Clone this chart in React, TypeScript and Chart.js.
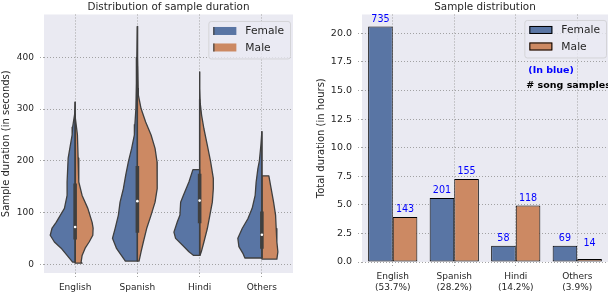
import React, { useEffect, useRef } from "react";
import { Chart, registerables } from "chart.js";

Chart.register(...registerables);
Chart.defaults.font.family = "'DejaVu Sans', sans-serif";

// ---------- shared ----------
const languages = ["English", "Spanish", "Hindi", "Others"];
const languageShares = ["(53.7%)", "(28.2%)", "(14.2%)", "(3.9%)"];
const genderLabels = ["Female", "Male"];
const genderColors = ["#5975a4", "#cc8963"];

// ---------- left panel: violin half-profiles [seconds, half width in category units], top -> bottom ----------
const femaleEnglish = [[314, 0], [290, 0.008], [265, 0.04], [250, 0.048], [205, 0.112], [159, 0.129], [133, 0.129], [108, 0.172], [81, 0.305], [70, 0.37], [56, 0.4], [43, 0.333], [31, 0.225], [17, 0.129], [4, 0.04]];
const maleEnglish = [[290, 0], [282, 0.008], [250, 0.037], [205, 0.048], [159, 0.059], [133, 0.112], [108, 0.204], [81, 0.273], [70, 0.289], [56, 0.284], [43, 0.225], [31, 0.161], [17, 0.112], [4, 0.096], [2, 0.112]];
const femaleSpanish = [[460, 0], [400, 0.008], [350, 0.016], [300, 0.024], [270, 0.04], [250, 0.048], [224, 0.092], [198, 0.145], [172, 0.188], [146, 0.225], [120, 0.278], [95, 0.305], [69, 0.358], [50, 0.4], [30, 0.333], [17, 0.257], [6, 0.193]];
const maleSpanish = [[460, 0], [400, 0.008], [340, 0.013], [327, 0.016], [301, 0.059], [275, 0.133], [250, 0.22], [224, 0.284], [198, 0.316], [172, 0.321], [146, 0.316], [120, 0.284], [95, 0.22], [69, 0.149], [43, 0.096], [24, 0.059], [6, 0.027]];
const femaleHindi = [[183, 0.108], [159, 0.172], [133, 0.262], [120, 0.305], [95, 0.316], [82, 0.358], [62, 0.413], [50, 0.386], [37, 0.278], [24, 0.172], [17, 0.096]];
const maleHindi = [[372, 0], [340, 0.005], [311, 0.01], [288, 0.032], [262, 0.069], [230, 0.124], [198, 0.177], [166, 0.22], [146, 0.22], [120, 0.204], [95, 0.165], [69, 0.124], [43, 0.069], [24, 0.027], [17, 0.005]];
const femaleOthers = [[257, 0], [230, 0.016], [200, 0.04], [185, 0.064], [159, 0.092], [133, 0.108], [108, 0.156], [88, 0.225], [69, 0.316], [50, 0.386], [34, 0.369], [21, 0.305], [12, 0.273]];
const maleOthers = [[171, 0.112], [146, 0.149], [120, 0.188], [95, 0.22], [69, 0.23], [43, 0.241], [24, 0.257], [10, 0.241]];

const femaleViolins = [femaleEnglish, femaleSpanish, femaleHindi, femaleOthers];
const maleViolins = [maleEnglish, maleSpanish, maleHindi, maleOthers];

// [lower whisker, q1, median, q3, upper whisker] in seconds
const boxStats = [
  [3, 48, 72, 156, 314],
  [6, 61, 122, 190, 383],
  [17, 79, 123, 175, 319],
  [12, 30, 57, 102, 257],
];
const durationTicks = [0, 100, 200, 300, 400];
const durationMin = -17;
const durationMax = 483;

// ---------- right panel ----------
const femaleHours = [20.6, 5.59, 1.43, 1.43];
const maleHours = [3.93, 7.25, 4.95, 0.26];
const femaleCounts = [735, 201, 58, 69];
const maleCounts = [143, 155, 118, 14];
const hoursTicks = [0, 2.5, 5, 7.5, 10, 12.5, 15, 17.5, 20];
const hoursMax = 21.65;
const countLabelFloor = 1.0;
const noteLines = ["(In blue)", "# song samples"];

const TEXT = "#262626";
const EDGE = "#3f3f3f";
const GRID = "#9a9a9a";

const plotBackground = {
  id: "plotBackground",
  beforeDraw(chart: any) {
    const { ctx, chartArea: a } = chart;
    ctx.save();
    ctx.fillStyle = "#eaeaf2";
    ctx.fillRect(a.left, a.top, a.right - a.left, a.bottom - a.top);
    ctx.restore();
  },
};

function roundedRect(ctx: CanvasRenderingContext2D, x: number, y: number, w: number, h: number, r: number) {
  ctx.beginPath();
  ctx.moveTo(x + r, y);
  ctx.lineTo(x + w - r, y);
  ctx.arcTo(x + w, y, x + w, y + r, r);
  ctx.lineTo(x + w, y + h - r);
  ctx.arcTo(x + w, y + h, x + w - r, y + h, r);
  ctx.lineTo(x + r, y + h);
  ctx.arcTo(x, y + h, x, y + h - r, r);
  ctx.lineTo(x, y + r);
  ctx.arcTo(x, y, x + r, y, r);
  ctx.closePath();
}

const boxLegend = {
  id: "boxLegend",
  afterDraw(chart: any, _args: any, opts: any) {
    const { ctx, chartArea: a } = chart;
    ctx.save();
    ctx.font = "10.7px 'DejaVu Sans'";
    const textW = Math.max(...genderLabels.map((t) => ctx.measureText(t).width));
    const w = textW + 43;
    const h = 37.5;
    const x0 = a.right - opts.right - w;
    const y0 = a.top + opts.top;
    roundedRect(ctx, x0 + 0.5, y0 + 0.5, w, h, 2.5);
    ctx.fillStyle = "rgba(234,234,242,0.8)";
    ctx.fill();
    ctx.strokeStyle = "#d4d4d8";
    ctx.lineWidth = 1;
    ctx.stroke();
    genderLabels.forEach((label, k) => {
      const sy = y0 + 6 + k * 16.5;
      ctx.fillStyle = genderColors[k];
      ctx.fillRect(x0 + 5, sy, 23, 8);
      if (opts.boxEdge) {
        ctx.strokeStyle = "#000";
        ctx.lineWidth = 1;
        ctx.strokeRect(x0 + 5.5, sy + 0.5, 22, 7);
      } else {
        ctx.strokeStyle = EDGE;
        ctx.lineWidth = 1.2;
        ctx.beginPath();
        ctx.moveTo(x0 + 5.5, sy);
        ctx.lineTo(x0 + 5.5, sy + 8);
        ctx.stroke();
      }
      ctx.fillStyle = TEXT;
      ctx.textBaseline = "middle";
      ctx.textAlign = "left";
      ctx.fillText(label, x0 + 37, sy + 4.5);
    });
    if (opts.notes) {
      ctx.font = "bold 9.5px 'DejaVu Sans'";
      ctx.textBaseline = "middle";
      ctx.fillStyle = "#0000ff";
      ctx.fillText(noteLines[0], x0 + 4, y0 + 50.5);
      ctx.fillStyle = "#000";
      ctx.fillText(noteLines[1], x0 + 2, y0 + 65.5);
    }
    ctx.restore();
  },
};

const barCounts = {
  id: "barCounts",
  afterDatasetsDraw(chart: any) {
    const { ctx } = chart;
    const yScale = chart.scales.y;
    const counts = [femaleCounts, maleCounts];
    ctx.save();
    ctx.font = "9.6px 'DejaVu Sans'";
    ctx.fillStyle = "#0000ff";
    ctx.textAlign = "center";
    ctx.textBaseline = "bottom";
    chart.data.datasets.forEach((_ds: any, di: number) => {
      const meta = chart.getDatasetMeta(di);
      meta.data.forEach((el: any, i: number) => {
        const y = Math.min(el.y, yScale.getPixelForValue(countLabelFloor)) - 2.5;
        ctx.fillText(String(counts[di][i]), el.x, y);
      });
    });
    ctx.restore();
  },
};

function halfViolin(center: number, profile: number[][], side: number) {
  const top = profile[0][0];
  const bottom = profile[profile.length - 1][0];
  const pts = [{ x: center, y: top }];
  profile.forEach(([v, w]) => pts.push({ x: center + side * w, y: v }));
  pts.push({ x: center, y: bottom });
  pts.push({ x: center, y: top });
  return pts;
}

const gridCommon = {
  color: GRID,
  lineWidth: 0.9,
  drawTicks: true,
  tickLength: 4,
  tickColor: GRID,
  tickBorderDash: [1, 2],
};

export default function App() {
  const leftRef = useRef<HTMLCanvasElement>(null);
  const rightRef = useRef<HTMLCanvasElement>(null);

  useEffect(() => {
    const violinSets: any[] = [];
    languages.forEach((_, i) => {
      violinSets.push({
        data: halfViolin(i, femaleViolins[i], -1),
        backgroundColor: genderColors[0],
        borderColor: EDGE,
        borderWidth: 1.3,
        fill: "shape",
        pointRadius: 0,
        tension: 0,
        borderJoinStyle: "round",
        order: 3,
      });
      violinSets.push({
        data: halfViolin(i, maleViolins[i], 1),
        backgroundColor: genderColors[1],
        borderColor: EDGE,
        borderWidth: 1.3,
        fill: "shape",
        pointRadius: 0,
        tension: 0,
        borderJoinStyle: "round",
        order: 3,
      });
    });
    const whiskerSets = boxStats.map((b, i) => ({
      data: [{ x: i, y: b[0] }, { x: i, y: b[4] }],
      borderColor: EDGE,
      borderWidth: 1.4,
      pointRadius: 0,
      fill: false,
      order: 2,
    }));
    const boxSets = boxStats.map((b, i) => ({
      data: [{ x: i, y: b[1] }, { x: i, y: b[3] }],
      borderColor: EDGE,
      borderWidth: 3.6,
      borderCapStyle: "butt",
      pointRadius: 0,
      fill: false,
      order: 1,
    }));
    const medianSet = {
      data: boxStats.map((b, i) => ({ x: i, y: b[2] })),
      showLine: false,
      pointRadius: 1.3,
      pointBackgroundColor: "#ffffff",
      pointBorderWidth: 0,
      order: 0,
    };

    const left = new Chart(leftRef.current!, {
      type: "line",
      data: { datasets: [...violinSets, ...whiskerSets, ...boxSets, medianSet] as any },
      options: {
        animation: false,
        responsive: false,
        events: [],
        layout: { padding: { left: 0, right: 7, top: 0, bottom: 0 } },
        plugins: {
          legend: { display: false },
          tooltip: { enabled: false },
          title: {
            display: true,
            text: "Distribution of sample duration",
            color: TEXT,
            font: { size: 10.4, weight: "normal" },
            padding: { top: 1, bottom: 1 },
            fullSize: false,
          },
          boxLegend: { right: 3, top: 6.5, boxEdge: false },
        } as any,
        scales: {
          x: {
            type: "linear",
            min: -0.5,
            max: 3.5,
            afterBuildTicks: (axis: any) => {
              axis.ticks = languages.map((_, i) => ({ value: i }));
            },
            ticks: {
              callback: (_v: any, i: number) => languages[i],
              color: TEXT,
              font: { size: 9 },
              padding: 5,
              autoSkip: false,
              maxRotation: 0,
            },
            grid: gridCommon,
            border: { display: false, dash: [1, 2] },
            afterFit: (s: any) => {
              s.height = 19;
            },
          },
          y: {
            type: "linear",
            min: durationMin,
            max: durationMax,
            afterBuildTicks: (axis: any) => {
              axis.ticks = durationTicks.map((v) => ({ value: v }));
            },
            ticks: { color: TEXT, font: { size: 9 }, padding: 6 },
            title: {
              display: true,
              text: "Sample duration (in seconds)",
              color: TEXT,
              font: { size: 10 },
              padding: { top: 0, bottom: 0 },
            },
            grid: gridCommon,
            border: { display: false, dash: [1, 2] },
            afterFit: (s: any) => {
              s.width = 44;
            },
          },
        } as any,
      },
      plugins: [plotBackground, boxLegend],
    });

    const right = new Chart(rightRef.current!, {
      type: "bar",
      data: {
        labels: languages.map((l, i) => [l, languageShares[i]]),
        datasets: [
          { label: genderLabels[0], data: femaleHours, backgroundColor: genderColors[0] },
          { label: genderLabels[1], data: maleHours, backgroundColor: genderColors[1] },
        ].map((d) => ({
          ...d,
          borderColor: "#000000",
          borderWidth: 1,
          borderSkipped: false,
          categoryPercentage: 0.8,
          barPercentage: 1,
        })) as any,
      },
      options: {
        animation: false,
        responsive: false,
        events: [],
        layout: { padding: { left: 0, right: 0, top: 0, bottom: 0 } },
        plugins: {
          legend: { display: false },
          tooltip: { enabled: false },
          title: {
            display: true,
            text: "Sample distribution",
            color: TEXT,
            font: { size: 10.4, weight: "normal" },
            padding: { top: 1, bottom: 1 },
            fullSize: false,
          },
          boxLegend: { right: 2, top: 5.5, boxEdge: true, notes: true },
        } as any,
        scales: {
          x: {
            grid: { ...gridCommon, offset: false },
            border: { display: false, dash: [1, 2] },
            ticks: { color: TEXT, font: { size: 9, lineHeight: 1.3 }, padding: 4.5, autoSkip: false, maxRotation: 0 },
            afterFit: (s: any) => {
              s.height = 30;
            },
          },
          y: {
            min: 0,
            max: hoursMax,
            afterBuildTicks: (axis: any) => {
              axis.ticks = hoursTicks.map((v) => ({ value: v }));
            },
            ticks: {
              color: TEXT,
              font: { size: 9.5 },
              padding: 6,
              callback: (v: any) => Number(v).toFixed(1),
            },
            title: {
              display: true,
              text: "Total duration (in hours)",
              color: TEXT,
              font: { size: 10 },
              padding: { top: 15, bottom: 0 },
            },
            grid: gridCommon,
            border: { display: false, dash: [1, 2] },
            afterFit: (s: any) => {
              s.width = 62;
            },
          },
        } as any,
      },
      plugins: [plotBackground, boxLegend, barCounts],
    });

    return () => {
      left.destroy();
      right.destroy();
    };
  }, []);

  return (
    <div style={{ position: "absolute", left: 0, top: 0, width: 608, height: 292, background: "#fff" }}>
      <canvas ref={leftRef} width={300} height={292} style={{ position: "absolute", left: 0, top: 0 }} />
      <canvas ref={rightRef} width={308} height={292} style={{ position: "absolute", left: 300, top: 0 }} />
    </div>
  );
}
